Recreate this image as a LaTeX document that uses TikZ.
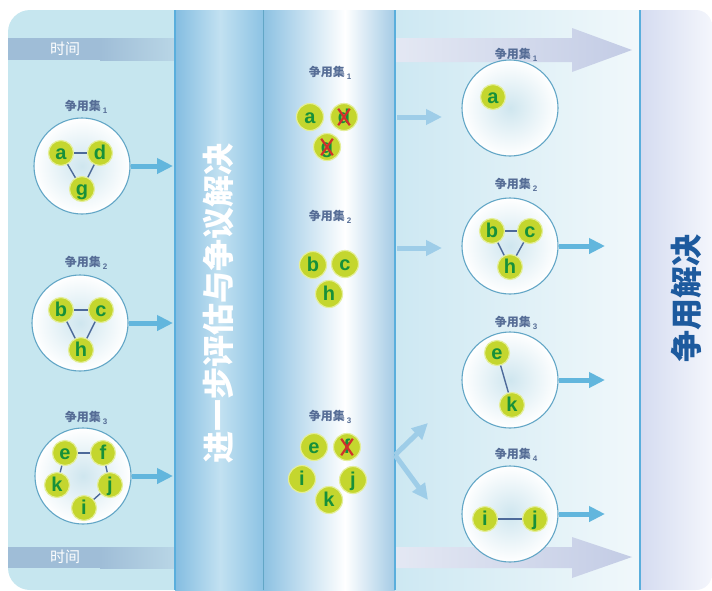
\documentclass[tikz,border=0pt]{standalone}
\usepackage{fontspec}
\newfontfamily\cjk{Noto Sans CJK SC}
\newfontfamily\letterfont{Liberation Sans}
\usetikzlibrary{arrows.meta}

\definecolor{panelblue}{HTML}{C6E6EF}
\definecolor{bandleft}{HTML}{9FBDD7}
\definecolor{bandfade}{HTML}{B9D6E6}
\definecolor{evalleft}{HTML}{84BDE1}
\definecolor{evalmid}{HTML}{C2E1F1}
\definecolor{evalright}{HTML}{8DC3E4}
\definecolor{midleft}{HTML}{8CC1E2}
\definecolor{midright}{HTML}{A4CBE5}
\definecolor{openleft}{HTML}{CDE8F2}
\definecolor{openright}{HTML}{F1F8FB}
\definecolor{finalside}{HTML}{C3CDEA}
\definecolor{finalmid}{HTML}{F4F6FC}
\definecolor{edgeline}{HTML}{5AAEDC}
\definecolor{lavband}{HTML}{C3CCE5}
\definecolor{ringblue}{HTML}{62A6C6}
\definecolor{ringcenter}{HTML}{CFE6EF}
\definecolor{itemfill}{HTML}{C4D62E}
\definecolor{itemring}{HTML}{E4EE9A}
\definecolor{itemtext}{HTML}{17903A}
\definecolor{linkblue}{HTML}{4D6A9A}
\definecolor{labelgrey}{HTML}{566D96}
\definecolor{flowblue}{HTML}{62B6DD}
\definecolor{flowpale}{HTML}{9ECDE8}
\definecolor{vetored}{HTML}{D0302C}
\definecolor{titleblue}{HTML}{1D5A9E}

\newcommand{\setlabel}[1]{{\cjk\bfseries 争用集}\,\raisebox{-3pt}{\letterfont\bfseries\fontsize{8}{8}\selectfont #1}}

\begin{document}
\begin{tikzpicture}[x=1pt,y=-1pt,
    item/.style={circle, fill=itemfill, draw=itemring, line width=1.2pt, minimum size=25pt, inner sep=0pt,
        text=itemtext, text height=13pt, text depth=1pt, font=\letterfont\bfseries\fontsize{20}{20}\selectfont},
    bigitem/.style={item, minimum size=27pt},
    setring/.style={circle, minimum size=96pt, draw=ringblue, line width=1.1pt, inner color=ringcenter, outer color=white},
    setname/.style={text=labelgrey, font=\fontsize{12}{12}\selectfont},
    link/.style={draw=linkblue, line width=1.4pt},
    veto/.style={draw=vetored, line width=2.2pt, shorten <=4pt, shorten >=4pt},
    flow/.style={draw=flowblue, line width=5pt, -{Triangle[width=15pt,length=16pt]}},
    paleflow/.style={flow, draw=flowpale},
    timetag/.style={text=white, font=\cjk\fontsize{15}{15}\selectfont}]
	\useasboundingbox (0,0) rectangle (712,590);

	% background columns
	\fill[panelblue, rounded corners=22pt] (8,10) rectangle (220,590);
	\shade[left color=finalside, right color=finalmid, rounded corners=16pt] (600,10) rectangle (712,590);
	\fill[bandleft] (8,38) rectangle (100,60);
	\shade[left color=bandleft, right color=bandfade] (100,38) rectangle (175,60);
	\fill[bandleft] (8,547) rectangle (100,568);
	\shade[left color=bandleft, right color=bandfade] (100,547) rectangle (175,568);
	\shade[left color=evalleft, right color=evalmid] (175,10) rectangle (220,590);
	\shade[left color=evalmid, right color=evalright] (220,10) rectangle (263,590);
	\shade[left color=midleft, right color=white] (263,10) rectangle (345,590);
	\shade[left color=white, right color=midright] (345,10) rectangle (395,590);
	\shade[left color=openleft, right color=openright] (395,10) rectangle (640,590);
	\shade[left color=lavband!45, right color=lavband] (395,38) -- (572,38) -- (572,28) -- (632,50)
		-- (572,72) -- (572,62) -- (395,62) -- cycle;
	\shade[left color=lavband!45, right color=lavband] (395,547) -- (572,547) -- (572,537) -- (632,557)
		-- (572,578) -- (572,568) -- (395,568) -- cycle;
	\draw[edgeline, line width=1.5pt] (175,10) -- (175,590);
	\draw[ringblue, line width=0.8pt] (263,10) -- (263,590);
	\draw[edgeline, line width=1.2pt] (395,10) -- (395,590);
	\draw[edgeline, line width=1.5pt] (640,10) -- (640,590);

	\node[timetag] (time1) at (65,49) {时间};
	\node[timetag] (time2) at (65,557) {时间};
	\node[rotate=90, text=white, font=\cjk\bfseries\fontsize{32}{32}\selectfont] (evaltext) at (219,303) {进一步评估与争议解决};
	\node[rotate=90, text=titleblue, font=\cjk\bfseries\fontsize{32}{32}\selectfont] (donetext) at (686,298) {争用解决};

	% first look: three contention sets
	\node[setname] (l1name) at (86,107) {\setlabel{1}};
	\node[setring] (L1) at (82,166) {};
	\node[item] (l1a) at (61,153) {a};
	\node[item] (l1d) at (100,153) {d};
	\node[item] (l1g) at (82,189) {g};
	\draw[link] (l1a) -- (l1d);
	\draw[link] (l1a) -- (l1g);
	\draw[link] (l1d) -- (l1g);

	\node[setname] (l2name) at (86,263) {\setlabel{2}};
	\node[setring] (L2) at (80,323) {};
	\node[item] (l2b) at (61,310) {b};
	\node[item] (l2c) at (101,310) {c};
	\node[item] (l2h) at (81,350) {h};
	\draw[link] (l2b) -- (l2c);
	\draw[link] (l2b) -- (l2h);
	\draw[link] (l2c) -- (l2h);

	\node[setname] (l3name) at (86,418) {\setlabel{3}};
	\node[setring] (L3) at (83,476) {};
	\node[item] (l3e) at (65,453) {e};
	\node[item] (l3f) at (103,453) {f};
	\node[item] (l3k) at (57,485) {k};
	\node[item] (l3j) at (110,485) {j};
	\node[item] (l3i) at (84,508) {i};
	\draw[link] (l3e) -- (l3f);
	\draw[link] (l3e) -- (l3k);
	\draw[link] (l3f) -- (l3j);
	\draw[link] (l3j) -- (l3i);

	\coordinate (l1end) at (173,166);
	\coordinate (l2end) at (173,323);
	\coordinate (l3end) at (173,476);
	\draw[flow] (L1.east) -- (l1end);
	\draw[flow] (L2.east) -- (l2end);
	\draw[flow] (L3.east) -- (l3end);

	% evaluation column
	\node[setname] (m1name) at (330,73) {\setlabel{1}};
	\node[bigitem] (m1a) at (310,117) {a};
	\node[bigitem] (m1d) at (344,117) {d};
	\node[bigitem] (m1g) at (327,147) {g};
	\draw[veto] (m1d.125) -- (m1d.-55);
	\draw[veto] (m1d.55) -- (m1d.-125);
	\draw[veto] (m1g.125) -- (m1g.-55);
	\draw[veto] (m1g.55) -- (m1g.-125);

	\node[setname] (m2name) at (330,217) {\setlabel{2}};
	\node[bigitem] (m2b) at (313,265) {b};
	\node[bigitem] (m2c) at (345,264) {c};
	\node[bigitem] (m2h) at (329,294) {h};

	\node[setname] (m3name) at (330,417) {\setlabel{3}};
	\node[bigitem] (m3e) at (314,447) {e};
	\node[bigitem] (m3f) at (347,447) {f};
	\node[bigitem] (m3i) at (302,479) {i};
	\node[bigitem] (m3j) at (353,480) {j};
	\node[bigitem] (m3k) at (329,500) {k};
	\draw[veto] (m3f.125) -- (m3f.-55);
	\draw[veto] (m3f.55) -- (m3f.-125);

	\coordinate (m1start) at (397,117);
	\coordinate (m1end) at (442,117);
	\coordinate (m2start) at (397,248);
	\coordinate (m2end) at (442,248);
	\coordinate (m3start) at (395,455);
	\coordinate (m3up) at (428,423);
	\coordinate (m3down) at (428,500);
	\draw[paleflow] (m1start) -- (m1end);
	\draw[paleflow] (m2start) -- (m2end);
	\draw[paleflow] (m3start) -- (m3up);
	\draw[paleflow] (m3start) -- (m3down);

	% after evaluation: four contention sets
	\node[setname] (r1name) at (516,55) {\setlabel{1}};
	\node[setring] (R1) at (510,108) {};
	\node[item] (r1a) at (493,97) {a};

	\node[setname] (r2name) at (516,185) {\setlabel{2}};
	\node[setring] (R2) at (510,246) {};
	\node[item] (r2b) at (492,231) {b};
	\node[item] (r2c) at (530,231) {c};
	\node[item] (r2h) at (510,267) {h};
	\draw[link] (r2b) -- (r2c);
	\draw[link] (r2b) -- (r2h);
	\draw[link] (r2c) -- (r2h);

	\node[setname] (r3name) at (516,323) {\setlabel{3}};
	\node[setring] (R3) at (510,380) {};
	\node[item] (r3e) at (497,353) {e};
	\node[item] (r3k) at (512,405) {k};
	\draw[link] (r3e) -- (r3k);

	\node[setname] (r4name) at (516,455) {\setlabel{4}};
	\node[setring] (R4) at (510,514) {};
	\node[item] (r4i) at (485,519) {i};
	\node[item] (r4j) at (535,519) {j};
	\draw[link] (r4i) -- (r4j);

	\coordinate (r2end) at (605,246);
	\coordinate (r3end) at (605,380);
	\coordinate (r4end) at (605,514);
	\draw[flow] (R2.east) -- (r2end);
	\draw[flow] (R3.east) -- (r3end);
	\draw[flow] (R4.east) -- (r4end);
\end{tikzpicture}
\end{document}
